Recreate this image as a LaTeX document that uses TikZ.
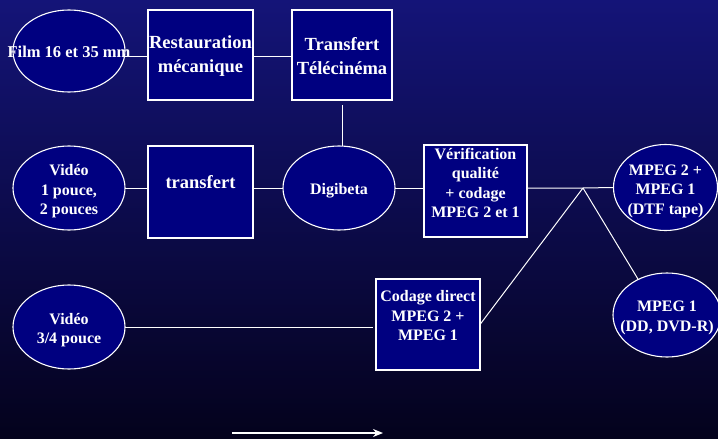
\documentclass[tikz,border=0pt]{standalone}
\usepackage{fontspec}
\setmainfont{Liberation Serif}
\usetikzlibrary{shapes.geometric,arrows.meta}
\definecolor{bgtop}{RGB}{20,20,120}
\definecolor{bgbot}{RGB}{4,2,28}
\definecolor{navy}{RGB}{0,0,128}
\newcommand\nt[2]{\raisebox{#1}[0pt][0pt]{\makebox[0pt]{\begin{tabular}{@{}c@{}}#2\end{tabular}}}}
\tikzset{
  ell/.style={ellipse, draw=white, fill=navy, line width=1.1pt, inner sep=0pt, outer sep=0pt, text=white},
  boxn/.style={rectangle, draw=white, fill=navy, line width=1.1pt, inner sep=0pt, outer sep=0pt, text=white},
  sm/.style={font=\bfseries\fontsize{16}{19.5}\selectfont},
  bg/.style={font=\bfseries\fontsize{18.5}{24}\selectfont},
  filmf/.style={font=\bfseries\fontsize{16.5}{20}\selectfont},
  conn/.style={draw=white, line width=1pt},
}
\begin{document}
\begin{tikzpicture}[x=1pt,y=-1pt]
\shade[top color=bgtop,bottom color=bgbot] (0,0) rectangle (718,439);
\useasboundingbox (0,0) rectangle (718,439);
% nodes
\node[ell,filmf,minimum width=112pt,minimum height=82pt] (film) at (69,51) {\nt{-7pt}{Film 16 et 35 mm}};
\node[boxn,bg,minimum width=105pt,minimum height=90pt] (rest) at (200.5,55) {\nt{-5pt}{Restauration\\mécanique}};
\node[boxn,bg,minimum width=100pt,minimum height=90pt] (tele) at (342,55) {\nt{-7pt}{Transfert\\Télécinéma}};
\node[ell,sm,minimum width=112pt,minimum height=84pt] (vid1) at (69,188) {\nt{-7.5pt}{Vidéo\\1 pouce,\\2 pouces}};
\node[boxn,bg,minimum width=105pt,minimum height=92pt] (trans) at (200.5,192) {\nt{3.5pt}{transfert}};
\node[ell,sm,minimum width=112pt,minimum height=84pt] (digi) at (339,188) {\nt{-7pt}{Digibeta}};
\node[boxn,sm,minimum width=103pt,minimum height=92pt] (verif) at (475.5,191) {\nt{2pt}{Vérification\\qualité\\+ codage\\MPEG 2 et 1}};
\node[ell,sm,minimum width=104pt,minimum height=86pt] (mp2) at (665.5,187.5) {\nt{-7.5pt}{MPEG 2 +\\MPEG 1\\(DTF tape)}};
\node[ell,sm,minimum width=108pt,minimum height=84pt] (mp1) at (667,315) {\nt{-7pt}{MPEG 1\\(DD, DVD-R)}};
\node[ell,sm,minimum width=112pt,minimum height=84pt] (vid34) at (69,327) {\nt{-7.5pt}{Vidéo\\3/4 pouce}};
\node[boxn,sm,minimum width=104pt,minimum height=91pt] (codage) at (428,324.5) {\nt{3pt}{Codage direct\\MPEG 2 +\\MPEG 1}};
\coordinate (J) at (583,188);
\coordinate (a1) at (232,433);
\coordinate (a2) at (383,433);
% connectors
\draw[conn] (film.354) -- (film.354 -| rest.west);
\draw[conn] (rest.east |- film.354) -- (tele.west |- film.354);
\draw[conn, shorten <=5pt] (tele.south) -- (tele.south |- digi.north);
\draw[conn] (vid1.east) -- (vid1.east -| trans.west);
\draw[conn] (trans.east |- digi.west) -- (digi.west);
\draw[conn] (digi.east) -- (digi.east -| verif.west);
\draw[conn] (verif.east |- J) -- (J) -- (mp2.west);
\draw[conn] (J) -- (codage.east);
\draw[conn] (J) -- (mp1.129);
\draw[conn, shorten >=3pt] (vid34.east) -- (vid34.east -| codage.west);
\draw[white, line width=1.2pt, -{Stealth[length=10pt,width=8pt]}] (a1) -- (a2);
\end{tikzpicture}
\end{document}
